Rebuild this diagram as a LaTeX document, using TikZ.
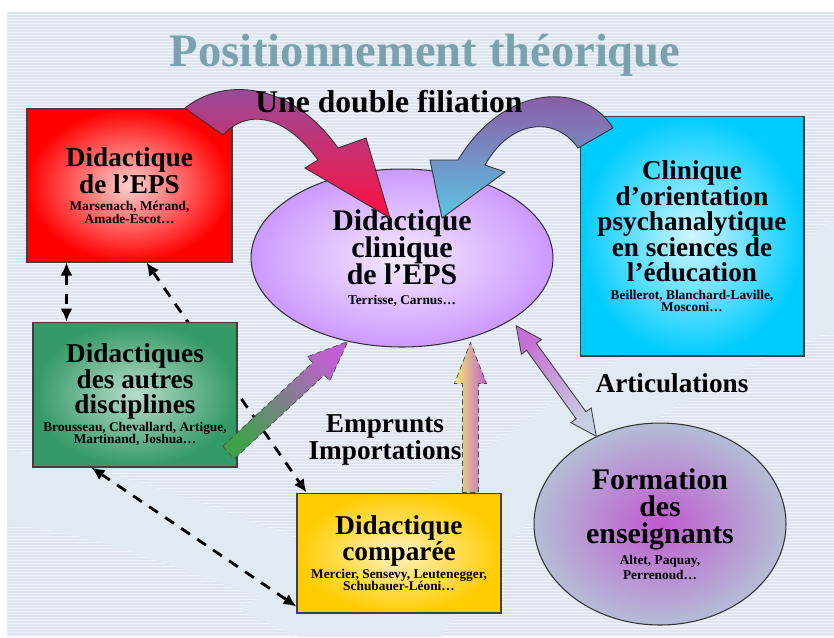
\documentclass[tikz,border=0pt]{standalone}
\usepackage{fontspec}
\setmainfont{Liberation Serif}
\usetikzlibrary{arrows.meta,shapes.geometric,calc}

\definecolor{bgfill}{HTML}{EEF2F9}
\definecolor{stripe}{HTML}{DEE5F1}
\definecolor{swoosh}{HTML}{E1E9F2}
\definecolor{titleteal}{HTML}{7AA2AC}
\definecolor{epsred}{HTML}{FF0000}
\definecolor{autresgreen}{HTML}{339966}
\definecolor{compyellow}{HTML}{FFCC00}
\definecolor{cliniccyan}{HTML}{00CCFF}
\definecolor{clinlilac}{HTML}{CC99FF}
\definecolor{formgray}{HTML}{B4BDD6}
\definecolor{formmagenta}{HTML}{C05AD0}
\definecolor{filpurple}{HTML}{9050A0}
\definecolor{filred}{HTML}{FF1040}
\definecolor{filblue}{HTML}{5CC6E4}
\definecolor{arrgreen}{HTML}{3FA048}
\definecolor{arrmagenta}{HTML}{C060D0}
\definecolor{arryellow}{HTML}{F2EC70}
\definecolor{artgray}{HTML}{C8CFE2}

\newcommand{\boxfont}{\fontsize{15.5}{14}\selectfont\bfseries}
\newcommand{\clinfont}{\fontsize{17}{15.5}\selectfont\bfseries}
\newcommand{\authfont}{\fontsize{7.6}{7}\selectfont\bfseries}

% block arrow: [style]{tail}{tip}{shaft half width}{head half width}{head length}
\newcommand{\blockarrow}[6][]{%
  \coordinate (ba-b) at ($(#3)!#6!(#2)$);
  \path[#1] ($(#2)!#4!90:(#3)$) -- ($(ba-b)!#4!-90:(#2)$) -- ($(ba-b)!#5!-90:(#2)$)
    -- (#3) -- ($(ba-b)!#5!90:(#2)$) -- ($(ba-b)!#4!90:(#2)$) -- ($(#2)!#4!-90:(#3)$) -- cycle;}
% same with a head at both ends
\newcommand{\dblarrow}[6][]{%
  \coordinate (da-a) at ($(#2)!#6!(#3)$);
  \coordinate (da-b) at ($(#3)!#6!(#2)$);
  \path[#1] (#2) -- ($(da-a)!#5!90:(#3)$) -- ($(da-a)!#4!90:(#3)$) -- ($(da-b)!#4!-90:(#2)$)
    -- ($(da-b)!#5!-90:(#2)$) -- (#3) -- ($(da-b)!#5!90:(#2)$) -- ($(da-b)!#4!90:(#2)$)
    -- ($(da-a)!#4!-90:(#3)$) -- ($(da-a)!#5!-90:(#3)$) -- cycle;}

\pgfdeclarelayer{background}
\pgfdeclarelayer{behind}
\pgfsetlayers{background,behind,main}

\tikzset{
  boxnode/.style={rectangle, draw=black!75, line width=0.6pt, align=center, inner sep=1pt, font=\boxfont},
  epsbox/.style={boxnode, inner color=epsred!18!white, outer color=epsred, minimum width=4.1cm, minimum height=3.06cm},
  autresbox/.style={boxnode, inner color=autresgreen!35!white, outer color=autresgreen, minimum width=4.08cm, minimum height=2.9cm},
  compbox/.style={boxnode, inner color=compyellow!25!white, outer color=compyellow, minimum width=4.08cm, minimum height=2.4cm},
  clinbox/.style={boxnode, inner color=cliniccyan!18!white, outer color=cliniccyan, minimum width=4.48cm, minimum height=4.8cm},
  clinell/.style={ellipse, draw=black!80, line width=0.6pt, align=center, inner sep=0pt, font=\clinfont,
    inner color=clinlilac!20!white, outer color=clinlilac, minimum width=6.04cm, minimum height=3.56cm},
  formell/.style={ellipse, draw=black!80, line width=0.6pt, align=center, inner sep=0pt, font=\clinfont,
    inner color=formmagenta, outer color=formgray, minimum width=5.04cm, minimum height=4.04cm},
  dasharrow/.style={line width=1.6pt, dash pattern=on 6pt off 5pt,
    {Latex[length=2.6mm,width=2.4mm]}-{Latex[length=2.6mm,width=2.4mm]}},
  greenarrow/.style={shade, bottom color=arrgreen, top color=arrmagenta, shading angle=-47,
    draw=black!70, densely dashed, line width=0.4pt},
  yellowarrow/.style={shade, left color=arryellow, right color=arrmagenta,
    draw=black!70, densely dashed, line width=0.4pt},
  artarrow/.style={shade, bottom color=artgray, top color=arrmagenta!90!white, shading angle=36,
    draw=black!75, line width=0.5pt},
  curvarrow/.style={shade, draw=black!80, line width=0.5pt},
  labeltxt/.style={font=\fontsize{15.5}{15}\selectfont\bfseries, align=center, inner sep=0pt}
}

\begin{document}
\begin{tikzpicture}[x=0.02cm, y=-0.02cm]
\useasboundingbox (0,0) rectangle (834,637);

% background with stripes and swooshes
\begin{pgfonlayer}{background}
  \fill[white] (0,0) rectangle (834,637);
  \fill[bgfill] (7,12) rectangle (834,637);
  \foreach \yy in {13,16,...,636}
    \draw[stripe, line width=0.6pt] (7,\yy) -- (834,\yy);
  \fill[swoosh] (7,450) .. controls (120,470) and (220,510) .. (300,540)
    -- (300,610) .. controls (200,580) and (100,530) .. (7,525) -- cycle;
  \fill[swoosh] (240,610) .. controls (450,480) and (650,330) .. (834,220)
    -- (834,330) .. controls (700,380) and (540,470) .. (440,637) -- (300,637) -- cycle;
\end{pgfonlayer}

% title
\node[font=\fontsize{26.5}{28}\selectfont\bfseries, text=titleteal, anchor=base] (title) at (425,66) {Positionnement théorique};

% boxes
\node[epsbox] (eps) at (129.5,185.5) {Didactique\\de l’EPS\\[-4pt]
  \authfont Marsenach, Mérand,\\[-7pt]\authfont Amade-Escot…};
\node[autresbox] (autres) at (135,394.5) {Didactiques\\des autres\\disciplines\\[-4pt]
  \authfont Brousseau, Chevallard, Artigue,\\[-7pt]\authfont Martinand, Joshua…};
\node[compbox] (comp) at (399,553) {Didactique\\comparée\\[-4pt]
  \authfont Mercier, Sensevy, Leutenegger,\\[-7pt]\authfont Schubauer-Léoni…};
\node[clinbox] (clinique) at (692,236) {Clinique\\d’orientation\\psychanalytique\\en sciences de\\l’éducation\\[-4pt]
  \authfont Beillerot, Blanchard-Laville,\\[-7pt]\authfont Mosconi…};
\node[clinell] (clin) at (402,258) {Didactique\\clinique\\de l’EPS\\[-4pt]\authfont Terrisse, Carnus…};
\node[formell] (form) at (660,524) {Formation\\des\\enseignants\\[-4pt]
  \authfont Altet, Paquay,\\[-7pt]\authfont Perrenoud…};

% dashed links
\begin{pgfonlayer}{behind}
  \draw[dasharrow] ([xshift=0.8cm]eps.south west) -- ([xshift=0.8cm]eps.south west |- autres.north);
  \draw[dasharrow] ([xshift=2.4cm]eps.south west) -- ([xshift=0.2cm]comp.north west);
  \draw[dasharrow] ([xshift=1.18cm]autres.south west) -- ([yshift=0.14cm]comp.south west);
\end{pgfonlayer}

% borrowings
\coordinate (ga-t) at ([shift={(-0.18cm,0.3cm)}]autres.south east);
\blockarrow[greenarrow]{ga-t}{clin.237}{0.17cm}{0.33cm}{0.8cm}
\coordinate (ya-t) at ([xshift=3.48cm]comp.north west);
\coordinate (ya-h) at ($(ya-t |- clin.south)+(0,-5)$);
\blockarrow[yellowarrow]{ya-t}{ya-h}{0.16cm}{0.32cm}{0.82cm}

% articulation
\coordinate (art-a) at ($(clin.-31)+(8,4)$);
\dblarrow[artarrow]{art-a}{form.126}{0.12cm}{0.25cm}{0.52cm}

% double filiation
\shade[curvarrow, top color=filpurple, bottom color=filred]
  (185,108) .. controls (222,78) and (290,80) .. (338,148) -- (366,138) -- (390,218)
  -- (305,168) -- (318,160) .. controls (285,115) and (248,108) .. (223,135) -- cycle;
\shade[curvarrow, top color=filpurple, bottom color=filblue]
  (613,128) .. controls (585,82) and (505,82) .. (458,160) -- (430,160) -- (442,218)
  -- (505,172) -- (485,165) .. controls (510,120) and (555,115) .. (578,148) -- cycle;

% labels
\node[font=\fontsize{18}{20}\selectfont\bfseries, anchor=base] (filiation) at (389,112) {Une double filiation};
\node[labeltxt] (emprunts) at (385,440) {Emprunts\\Importations};
\node[labeltxt, anchor=base] (articul) at (672,392) {Articulations};
\end{tikzpicture}
\end{document}
